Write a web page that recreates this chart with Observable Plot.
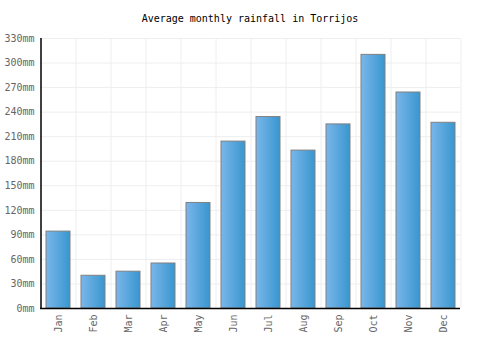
<!DOCTYPE html>
<html>
<head>
<meta charset="utf-8">
<script src="https://cdn.jsdelivr.net/npm/d3@7"></script>
<script src="https://cdn.jsdelivr.net/npm/@observablehq/plot@0.6"></script>
<style>
  html, body { margin: 0; padding: 0; background: #fff; }
  #title { height: 30px; line-height: 38px; text-align: center; font-family: "DejaVu Sans Mono", monospace; font-size: 10px; color: #000; }
  #chart svg { display: block; }
</style>
</head>
<body>
<div id="title">Average monthly rainfall in Torrijos</div>
<div id="chart"></div>
<script>
const months = ["Jan","Feb","Mar","Apr","May","Jun","Jul","Aug","Sep","Oct","Nov","Dec"];
const rainfall = [94, 40, 45, 55, 129, 204, 234, 193, 225, 310, 264, 227];
const yTicks = [0, 30, 60, 90, 120, 150, 180, 210, 240, 270, 300, 330];

const data = months.map((m, i) => ({month: m, value: rainfall[i]}));

const W = 500, H = 320, mL = 40, mR = 40, mT = 8, mB = 42;
const step = (W - mL - mR) / months.length;

const defs = () => {
  const d = d3.create("svg:defs");
  const g = d.append("linearGradient").attr("id", "barGrad").attr("x1", "0").attr("x2", "1").attr("y1", "0").attr("y2", "0");
  g.append("stop").attr("offset", "0").attr("stop-color", "#7ab6ea");
  g.append("stop").attr("offset", "1").attr("stop-color", "#3896cf");
  return d.node();
};

const chart = Plot.plot({
  width: W, height: H,
  marginLeft: mL, marginRight: mR, marginTop: mT, marginBottom: mB,
  style: {fontFamily: "'DejaVu Sans Mono', monospace", fontSize: "10px", color: "#666", background: "#fff"},
  x: {domain: months, paddingInner: 0.32, paddingOuter: 0.16, label: null, tickSize: 0, tickPadding: 6, tickRotate: -90},
  y: {domain: [0, 330], ticks: yTicks, tickFormat: d => d + "mm", label: null, tickSize: 0, tickPadding: 6},
  marks: [
    defs,
    Plot.gridY(yTicks, {stroke: "#eee", strokeOpacity: 1}),
    Plot.ruleX(months, {x: d => d, dx: step / 2, stroke: "#eee", strokeOpacity: 1}),
    Plot.barY(data, {x: "month", y: "value", fill: "url(#barGrad)", stroke: "#808080", strokeWidth: 1}),
    Plot.axisX({tickSize: 0, tickPadding: 6, tickRotate: -90, fill: "#666"}),
    Plot.axisY({ticks: yTicks, tickFormat: d => d + "mm", tickSize: 0, tickPadding: 6, fill: "#666"}),
    Plot.ruleY([0], {stroke: "#000", strokeWidth: 1.5}),
    Plot.ruleX([months[0]], {x: d => d, dx: -step / 2, stroke: "#000", strokeWidth: 1.5})
  ]
});
document.getElementById("chart").appendChild(chart);
</script>
</body>
</html>
